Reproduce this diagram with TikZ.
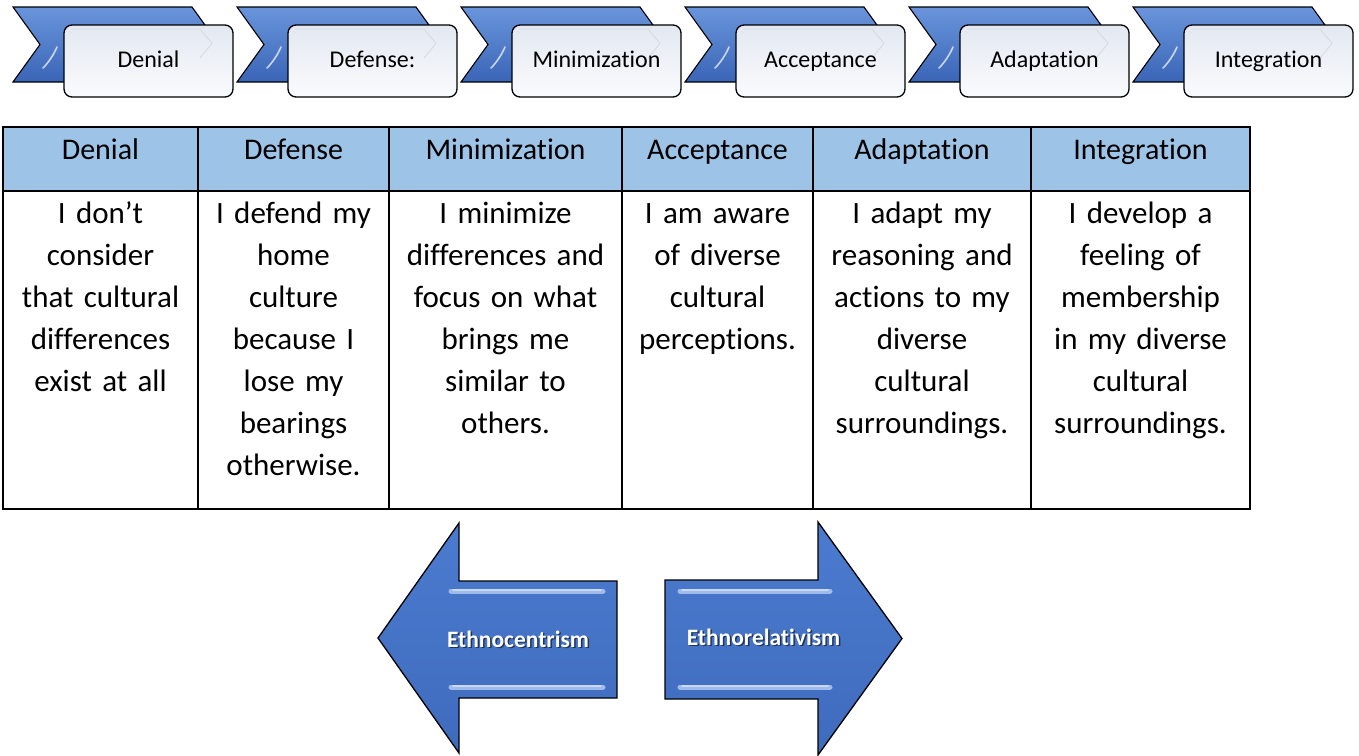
\documentclass[tikz,border=0pt]{standalone}
\usepackage{fontspec}
\setmainfont{Carlito}[Ligatures=NoCommon]
\definecolor{chevtop}{HTML}{6A95DC}
\definecolor{chevbot}{HTML}{3A65B6}
\definecolor{boxtop}{HTML}{E3E8F1}
\definecolor{boxbot}{HTML}{FAFBFD}
\definecolor{headfill}{HTML}{9DC3E6}
\definecolor{arrowtop}{HTML}{4B7BCF}
\definecolor{arrowbot}{HTML}{3F6BBD}
\definecolor{glint}{HTML}{9FBBEC}
\definecolor{faintline}{HTML}{D5DAE3}
\begin{document}
\begin{tikzpicture}[x=1pt,y=-1pt,
  chevron/.style={draw=black, line width=1.1pt, top color=chevtop, bottom color=chevbot, line join=miter},
  gloss/.style={white, opacity=.7, line width=1.6pt, line cap=round},
  stagebox/.style={draw=black, line width=1.3pt, rounded corners=8pt, top color=boxtop, bottom color=boxbot,
    minimum width=169pt, minimum height=72pt, inner sep=0pt},
  faint/.style={draw=faintline, line width=0.8pt},
  stagelabel/.style={font=\fontsize{24}{28}\selectfont, anchor=base, inner sep=0pt},
  grid/.style={line width=2pt},
  headtext/.style={font=\fontsize{30}{42}\selectfont, anchor=base, inner sep=0pt},
  celltext/.style={font=\fontsize{31}{42}\selectfont, anchor=north, inner sep=0pt, align=center, text width=#1},
  bigarrow/.style={draw=black, line width=1.3pt, top color=arrowtop, bottom color=arrowbot, line join=miter},
  bar/.style={glint, line width=5pt, line cap=round},
  barcore/.style={white, opacity=.45, line width=1.5pt, line cap=round},
  arrowlabel/.style={font=\bfseries\fontsize{23.5}{28}\selectfont, text=white, anchor=base, inner sep=0pt},
  labelshadow/.style={font=\bfseries\fontsize{23.5}{28}\selectfont, text=black, opacity=.55, anchor=base, inner sep=0pt}
]
\useasboundingbox (0,0) rectangle (1359,755);

% stage chevrons with their labelled boxes
\foreach \i/\lab in {0/Denial,1/Defense:,2/Minimization,3/Acceptance,4/Adaptation,5/Integration} {
  \pgfmathsetmacro\xo{13+224*\i}
  \draw[chevron] (\xo,7) -- ++(179,0) -- ++(27,37.5) -- ++(-27,37.5) -- ++(-179,0) -- ++(27,-37.5) -- cycle;
  \draw[gloss] (\xo+30,68) .. controls (\xo+36,62) and (\xo+41,54) .. (\xo+44,47);
  \node[stagebox] (box\i) at (\xo+135.5,61) {};
  \draw[faint] (\xo+58,29) -- (\xo+187,29) -- (\xo+199,43.5) -- (\xo+187,58);
  \node[stagelabel] (lab\i) at (\xo+135.5,67) {\lab};
}

% table
\fill[headfill] (3,127) rectangle (1250,191);
\draw[grid] (3,127) rectangle (1250,509);
\draw[grid] (3,191) -- (1250,191);
\foreach \x in {198,389,622,813,1031} \draw[grid] (\x,127) -- (\x,509);

\node[headtext] (h1) at (100.5,159) {Denial};
\node[headtext] (h2) at (293.5,159) {Defense};
\node[headtext] (h3) at (505.5,159) {Minimization};
\node[headtext] (h4) at (717.5,159) {Acceptance};
\node[headtext] (h5) at (922,159) {Adaptation};
\node[headtext] (h6) at (1140.5,159) {Integration};

\node[celltext=185pt] (c1) at (100.5,193.6) {\strut I don’t\\consider\\that cultural\\differences\\exist at all};
\node[celltext=181pt] (c2) at (293.5,193.6) {\strut I defend my\\home\\culture\\because I\\lose my\\bearings\\otherwise.};
\node[celltext=223pt] (c3) at (505.5,193.6) {\strut I minimize\\differences and\\focus on what\\brings me\\similar to\\others.};
\node[celltext=181pt] (c4) at (717.5,193.6) {\strut I am aware\\of diverse\\cultural\\perceptions.};
\node[celltext=208pt] (c5) at (922,193.6) {\strut I adapt my\\reasoning and\\actions to my\\diverse\\cultural\\surroundings.};
\node[celltext=209pt] (c6) at (1140.5,193.6) {\strut I develop a\\feeling of\\membership\\in my diverse\\cultural\\surroundings.};

% direction arrows
\draw[bigarrow] (378,638) -- (459,523) -- (459,581) -- (617,581) -- (617,698) -- (459,698) -- (459,753) -- cycle;
\draw[bar] (451,591) -- (603,591);
\draw[barcore] (453,590) -- (601,590);
\draw[bar] (451,687) -- (603,687);
\draw[barcore] (453,686) -- (601,686);

\draw[bigarrow] (665,580) -- (818,580) -- (818,522) -- (902,638.5) -- (818,755) -- (818,699) -- (665,699) -- cycle;
\draw[bar] (680,591) -- (830,591);
\draw[barcore] (682,590) -- (828,590);
\draw[bar] (680,687) -- (830,687);
\draw[barcore] (682,686) -- (828,686);

\node[labelshadow] (ecs) at (519.5,648.5) {Ethnocentrism};
\node[arrowlabel] (ec) at (518,647) {Ethnocentrism};
\node[labelshadow] (ers) at (765,646.5) {Ethnorelativism};
\node[arrowlabel] (er) at (763.5,645) {Ethnorelativism};
\end{tikzpicture}
\end{document}
